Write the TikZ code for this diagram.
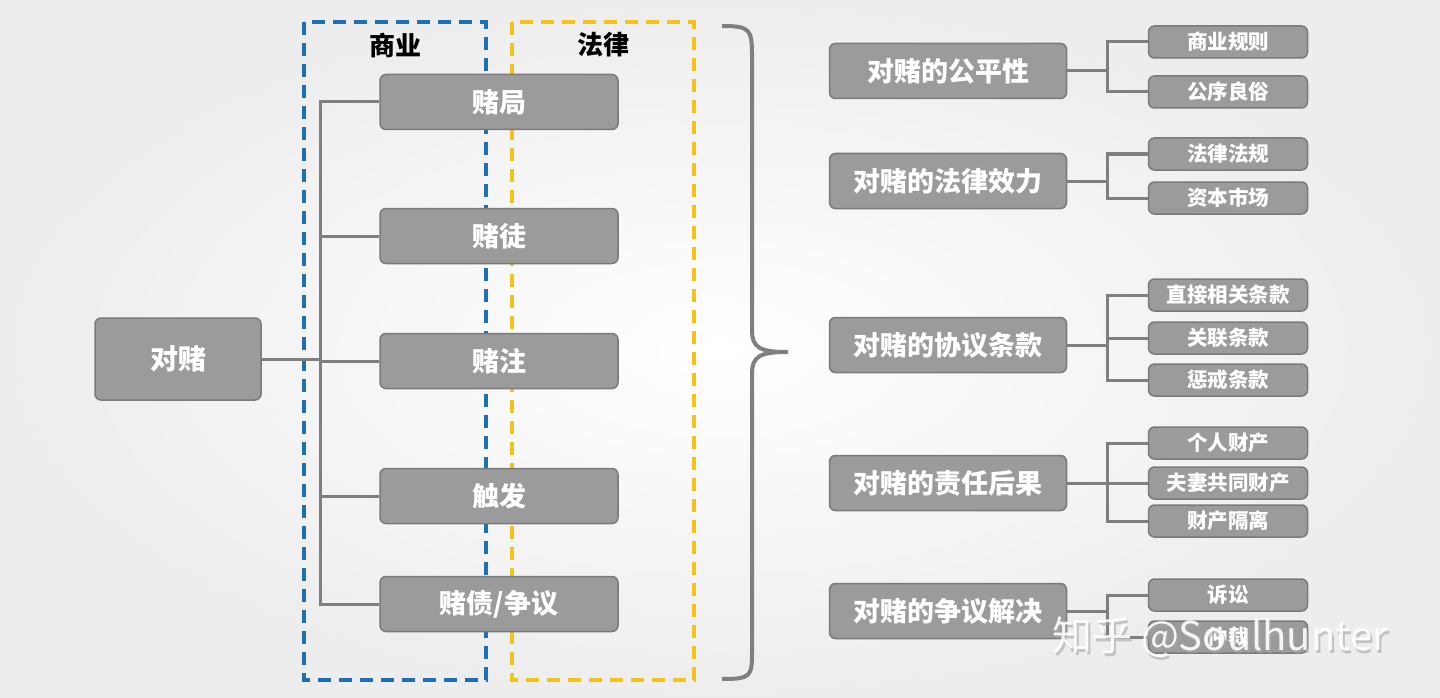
\documentclass[tikz,border=0pt]{standalone}
\usepackage{fontspec}
\setmainfont{Noto Sans CJK SC Black}
\newfontfamily\wm{Noto Sans CJK SC}
\begin{document}
\begin{tikzpicture}[x=1pt,y=-1pt,
 bx/.style={draw=boxline,fill=boxfill,rounded corners=6pt,line width=1.5pt,text=white,inner sep=0pt},
 ln/.style={draw=lncol,line width=3pt},
 big/.style={bx,font=\fontsize{28}{30}\selectfont},
 mid/.style={bx,font=\fontsize{27}{29}\selectfont,minimum width=238pt,minimum height=55pt},
 rm/.style={bx,font=\fontsize{27}{29}\selectfont,minimum width=237pt,minimum height=55pt},
 sm/.style={bx,font=\fontsize{20.5}{22}\selectfont,minimum width=159pt,minimum height=32pt}]
\definecolor{boxfill}{HTML}{9B9B9B}
\definecolor{boxline}{HTML}{7A7A7A}
\definecolor{lncol}{HTML}{7F7F7F}
\definecolor{bl}{HTML}{1F6FB5}
\definecolor{yl}{HTML}{F5C21A}
\useasboundingbox (0,0) rectangle (1440,698);
\shade[inner color=white,outer color=black!7] (0,0) rectangle (1440,698);
% dashed frames
\draw[bl,line width=3.5pt,dash pattern=on 13pt off 8pt] (304,22) rectangle (486,680);
\draw[yl,line width=3.5pt,dash pattern=on 13pt off 8pt] (512,22) rectangle (694,680);
\node[font=\fontsize{26}{28}\selectfont] (lb1) at (395,45) {商业};
\node[font=\fontsize{26}{28}\selectfont] (lb2) at (603,45) {法律};
% left
\node[big,minimum width=166pt,minimum height=82pt] (root) at (178,359) {对赌};
\node[mid] (m1) at (499,102) {赌局};
\node[mid] (m2) at (499,236) {赌徒};
\node[mid] (m3) at (499,361) {赌注};
\node[mid] (m4) at (499,496) {触发};
\node[mid] (m5) at (499,604) {赌债/争议};
\coordinate (tr) at (320,359);
\draw[ln] (m1.west) -- (m1.west -| tr) -- (m5.west -| tr) -- (m5.west);
\foreach \m in {m2,m3,m4} \draw[ln] (\m.west -| tr) -- (\m.west);
\draw[ln] (root.east) -- (tr);
% brace
\draw[lncol,line width=4pt] (722,26) .. controls (752,26) and (752,30) .. (752,60) -- (752,330)
 .. controls (752,348) and (760,352) .. (788,352)
 .. controls (760,352) and (752,356) .. (752,374) -- (752,650)
 .. controls (752,676) and (752,679) .. (722,679);
% right
\node[rm] (r1) at (948,71) {对赌的公平性};
\node[rm] (r2) at (948,181) {对赌的法律效力};
\node[rm] (r3) at (948,345) {对赌的协议条款};
\node[rm] (r4) at (948,483) {对赌的责任后果};
\node[rm] (r5) at (948,611) {对赌的争议解决};
\node[sm] (s11) at (1228,42) {商业规则};
\node[sm] (s12) at (1228,92) {公序良俗};
\node[sm] (s21) at (1228,154) {法律法规};
\node[sm] (s22) at (1228,198) {资本市场};
\node[sm] (s31) at (1228,295) {直接相关条款};
\node[sm] (s32) at (1228,338) {关联条款};
\node[sm] (s33) at (1228,380) {惩戒条款};
\node[sm] (s41) at (1228,443) {个人财产};
\node[sm] (s42) at (1228,483) {夫妻共同财产};
\node[sm] (s43) at (1228,521) {财产隔离};
\node[sm] (s51) at (1228,595) {诉讼};
\node[sm] (s52) at (1228,637) {仲裁};
\coordinate (vx) at (1107,0);
\foreach \r/\a/\b in {r1/s11/s12,r2/s21/s22,r3/s31/s33,r4/s41/s43,r5/s51/s52}{
 \draw[ln] (\r.east) -- (\r.east -| vx);
 \draw[ln] (\a.west) -- (\a.west -| vx) -- (\b.west -| vx) -- (\b.west);}
\draw[ln] (s32.west -| vx) -- (s32.west);
\draw[ln] (s42.west -| vx) -- (s42.west);
% watermark
\node[font=\wm\fontsize{40}{42}\selectfont,text=black!35,opacity=0.6] (wm2) at (1222,640) {知乎 @Soulhunter};
\node[font=\wm\fontsize{40}{42}\selectfont,text=white,opacity=0.9] (wm1) at (1220,637) {知乎 @Soulhunter};
\end{tikzpicture}
\end{document}
